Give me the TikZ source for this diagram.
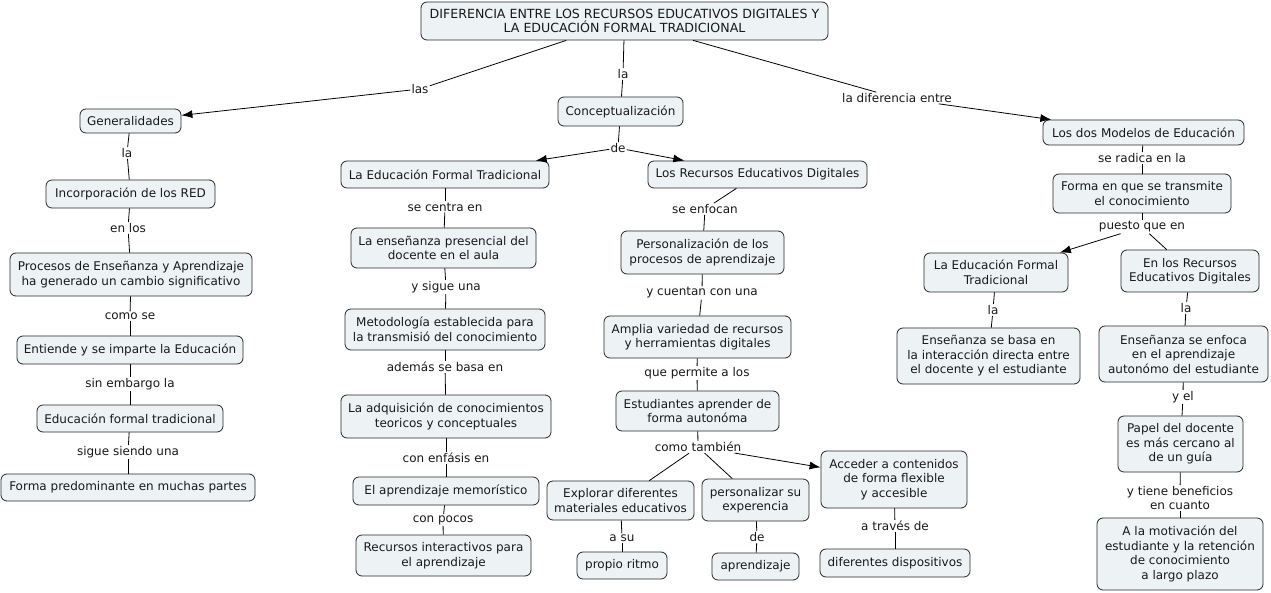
\documentclass[tikz,border=0pt]{standalone}
\usepackage{fontspec}
\setmainfont{DejaVu Sans}
\usetikzlibrary{arrows.meta}
\definecolor{cfill}{RGB}{237,243,245}
\definecolor{cdraw}{RGB}{40,40,40}
\definecolor{ctext}{RGB}{25,25,25}
\begin{document}
\begin{tikzpicture}[x=1pt,y=-1pt,
  concept/.style={draw=cdraw, fill=cfill, rounded corners=6pt, align=center, inner sep=0pt, line width=0.8pt, text=ctext, font=\fontsize{12}{14.5}\selectfont},
  lab/.style={fill=white, inner sep=1pt, align=center, text=ctext, font=\fontsize{12}{14}\selectfont},
  conn/.style={draw=black, line width=0.8pt},
  arr/.style={conn, -{Latex[length=11pt,width=8pt]}}]
\useasboundingbox[fill=white] (0,0) rectangle (1271,593);
% concepts
\node[concept, minimum width=407pt, minimum height=38pt, font=\fontsize{12.6}{14.5}\selectfont] (root) at (624.5,21) {DIFERENCIA ENTRE LOS RECURSOS EDUCATIVOS DIGITALES Y\\LA EDUCACIÓN FORMAL TRADICIONAL};
\node[concept, minimum width=101pt, minimum height=24pt] (gen) at (130.5,121) {Generalidades};
\node[concept, minimum width=125pt, minimum height=29pt] (conc) at (620.5,111.5) {Conceptualización};
\node[concept, minimum width=201pt, minimum height=25pt] (mod) at (1143.5,132.5) {Los dos Modelos de Educación};
\node[concept, minimum width=169pt, minimum height=28pt] (inc) at (130.5,194) {Incorporación de los RED};
\node[concept, minimum width=242pt, minimum height=43pt] (proc) at (131,274.5) {Procesos de Enseñanza y Aprendizaje\\ha generado un cambio significativo};
\node[concept, minimum width=226pt, minimum height=28pt] (ent) at (130,350) {Entiende y se imparte la Educación};
\node[concept, minimum width=186pt, minimum height=27pt] (eft) at (130,418.5) {Educación formal tradicional};
\node[concept, minimum width=254pt, minimum height=27pt] (fp) at (128,487.5) {Forma predominante en muchas partes};
\node[concept, minimum width=208pt, minimum height=27pt] (left) at (445,174.5) {La Educación Formal Tradicional};
\node[concept, minimum width=185pt, minimum height=40pt] (ens) at (443.5,248) {La enseñanza presencial del\\docente en el aula};
\node[concept, minimum width=200pt, minimum height=41pt] (met) at (445,329.5) {Metodología establecida para\\la transmisió del conocimiento};
\node[concept, minimum width=210pt, minimum height=43pt] (adq) at (446,416.5) {La adquisición de conocimientos\\teoricos y conceptuales};
\node[concept, minimum width=186pt, minimum height=28pt] (mem) at (446,491) {El aprendizaje memorístico};
\node[concept, minimum width=175pt, minimum height=41pt] (rec) at (443.5,555.5) {Recursos interactivos para\\el aprendizaje};
\node[concept, minimum width=219pt, minimum height=27pt] (lred) at (757.5,174.5) {Los Recursos Educativos Digitales};
\node[concept, minimum width=163pt, minimum height=43pt] (pers) at (702.5,252.5) {Personalización de los\\procesos de aprendizaje};
\node[concept, minimum width=187pt, minimum height=42pt] (amp) at (697.5,337) {Amplia variedad de recursos\\y herramientas digitales};
\node[concept, minimum width=163pt, minimum height=40pt] (est) at (697.5,411) {Estudiantes aprender de\\forma autonóma};
\node[concept, minimum width=147pt, minimum height=39pt] (exp) at (620.5,500.5) {Explorar diferentes\\materiales educativos};
\node[concept, minimum width=107pt, minimum height=42pt] (psu) at (755.5,500) {personalizar su\\experencia};
\node[concept, minimum width=146pt, minimum height=57pt] (acc) at (894,479.5) {Acceder a contenidos\\de forma flexible\\y accesible};
\node[concept, minimum width=150pt, minimum height=28pt] (dis) at (895,563) {diferentes dispositivos};
\node[concept, minimum width=90pt, minimum height=27pt] (pr) at (622,565.5) {propio ritmo};
\node[concept, minimum width=87pt, minimum height=27pt] (apr) at (755.5,566.5) {aprendizaje};
\node[concept, minimum width=178pt, minimum height=39pt] (fet) at (1142,193.5) {Forma en que se transmite\\el conocimiento};
\node[concept, minimum width=144pt, minimum height=39pt] (eftr) at (996,272.5) {La Educación Formal\\Tradicional};
\node[concept, minimum width=138pt, minimum height=42pt] (enr) at (1190,271) {En los Recursos\\Educativos Digitales};
\node[concept, minimum width=183pt, minimum height=56pt] (esb) at (988.5,356) {Enseñanza se basa en\\la interacción directa entre\\el docente y el estudiante};
\node[concept, minimum width=169pt, minimum height=56pt] (esf) at (1183.5,354) {Enseñanza se enfoca\\en el aprendizaje\\autonómo del estudiante};
\node[concept, minimum width=125pt, minimum height=56pt] (pap) at (1180.5,444) {Papel del docente\\es más cercano al\\de un guía};
\node[concept, minimum width=166pt, minimum height=72pt] (mot) at (1180,554) {A la motivación del\\estudiante y la retención\\de conocimiento\\a largo plazo};
% labels
\node[lab] (l1) at (420,89) {las};
\node[lab] (l2) at (623,74) {la};
\node[lab] (l3) at (897,98) {la diferencia entre};
\node[lab] (l4) at (127,153) {la};
\node[lab] (l5) at (128,228) {en los};
\node[lab] (l6) at (130,316) {como se};
\node[lab] (l7) at (130,384) {sin embargo la};
\node[lab] (l8) at (128,452) {sigue siendo una};
\node[lab] (l9) at (618,148) {de};
\node[lab] (l10) at (445,207) {se centra en};
\node[lab] (l11) at (446,287) {y sigue una};
\node[lab] (l12) at (445,367) {además se basa en};
\node[lab] (l13) at (446,458) {con enfásis en};
\node[lab] (l14) at (443,520) {con pocos};
\node[lab] (l15) at (705,209) {se enfocan};
\node[lab] (l16) at (702,293) {y cuentan con una};
\node[lab] (l17) at (697,373) {que permite a los};
\node[lab] (l18) at (698,447) {como también};
\node[lab] (l19) at (622,538) {a su};
\node[lab] (l20) at (757,537) {de};
\node[lab] (l21) at (895,526) {a través de};
\node[lab] (l22) at (1142,158) {se radica en la};
\node[lab] (l23) at (1142,227) {puesto que en};
\node[lab] (l24) at (993,310) {la};
\node[lab] (l25) at (1186,308) {la};
\node[lab] (l26) at (1183,397) {y el};
\node[lab] (l27) at (1180,498) {y tiene beneficios\\en cuanto};
% connectors
\draw[conn] (root) -- (l1); \draw[arr] (l1) -- (gen);
\draw[conn] (root) -- (l2); \draw[conn] (l2) -- (conc);
\draw[conn] (root) -- (l3); \draw[arr] (l3) -- (mod);
\draw[conn] (gen) -- (l4); \draw[conn] (l4) -- (inc);
\draw[conn] (inc) -- (l5); \draw[conn] (l5) -- (proc);
\draw[conn] (proc) -- (l6); \draw[conn] (l6) -- (ent);
\draw[conn] (ent) -- (l7); \draw[conn] (l7) -- (eft);
\draw[conn] (eft) -- (l8); \draw[conn] (l8) -- (fp);
\draw[conn] (conc) -- (l9); \draw[arr] (l9) -- (left); \draw[arr] (l9) -- (lred);
\draw[conn] (left) -- (l10); \draw[conn] (l10) -- (ens);
\draw[conn] (ens) -- (l11); \draw[conn] (l11) -- (met);
\draw[conn] (met) -- (l12); \draw[conn] (l12) -- (adq);
\draw[conn] (adq) -- (l13); \draw[conn] (l13) -- (mem);
\draw[conn] (mem) -- (l14); \draw[conn] (l14) -- (rec);
\draw[conn] (lred) -- (l15); \draw[conn] (l15) -- (pers);
\draw[conn] (pers) -- (l16); \draw[conn] (l16) -- (amp);
\draw[conn] (amp) -- (l17); \draw[conn] (l17) -- (est);
\draw[conn] (est) -- (l18); \draw[conn] (l18) -- (exp); \draw[conn] (l18) -- (psu); \draw[arr] (l18) -- (acc);
\draw[conn] (exp) -- (l19); \draw[conn] (l19) -- (pr);
\draw[conn] (psu) -- (l20); \draw[conn] (l20) -- (apr);
\draw[conn] (acc) -- (l21); \draw[conn] (l21) -- (dis);
\draw[conn] (mod) -- (l22); \draw[conn] (l22) -- (fet);
\draw[conn] (fet) -- (l23); \draw[arr] (l23) -- (eftr); \draw[conn] (l23) -- (enr);
\draw[conn] (eftr) -- (l24); \draw[conn] (l24) -- (esb);
\draw[conn] (enr) -- (l25); \draw[conn] (l25) -- (esf);
\draw[conn] (esf) -- (l26); \draw[conn] (l26) -- (pap);
\draw[conn] (pap) -- (l27); \draw[conn] (l27) -- (mot);
\end{tikzpicture}
\end{document}
